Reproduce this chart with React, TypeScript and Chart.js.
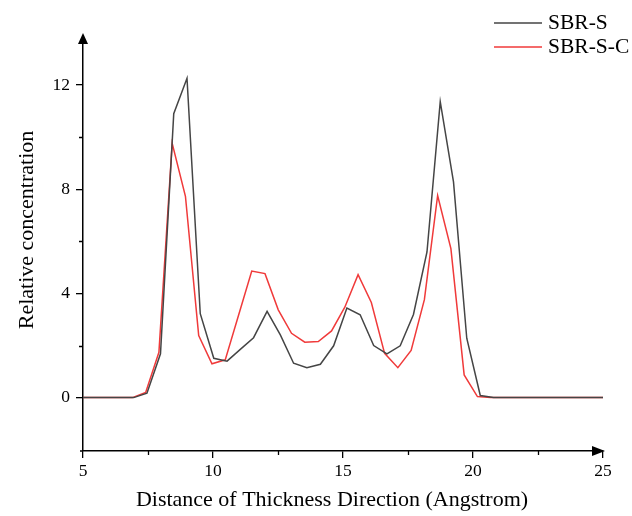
import React, { useEffect, useRef } from 'react';
import { Chart, registerables } from 'chart.js';

Chart.register(...registerables);

// SBR-S
const xBlack = [5, 6.95, 7.46, 7.98, 8.49, 9.0, 9.51, 10.03, 10.54, 11.05, 11.56, 12.08, 12.59, 13.1, 13.61, 14.13, 14.64, 15.15, 15.66, 16.18, 16.69, 17.2, 17.71, 18.23, 18.74, 19.25, 19.76, 20.28, 20.79, 25];
const yBlack = [0, 0, 0.17, 1.68, 10.9, 12.26, 3.22, 1.51, 1.4, 1.85, 2.3, 3.31, 2.41, 1.32, 1.15, 1.28, 1.99, 3.44, 3.18, 2.0, 1.68, 1.99, 3.19, 5.59, 11.36, 8.28, 2.28, 0.08, 0, 0];

// SBR-S-C
const xRed = [5, 6.9, 7.41, 7.92, 8.43, 8.94, 9.45, 9.96, 10.47, 10.98, 11.49, 12.0, 12.51, 13.02, 13.53, 14.05, 14.56, 15.07, 15.58, 16.09, 16.6, 17.11, 17.62, 18.13, 18.64, 19.15, 19.66, 20.17, 20.68, 25];
const yRed = [0, 0, 0.2, 1.74, 9.76, 7.73, 2.38, 1.3, 1.45, 3.15, 4.86, 4.76, 3.37, 2.47, 2.13, 2.15, 2.56, 3.47, 4.72, 3.65, 1.7, 1.15, 1.81, 3.76, 7.76, 5.72, 0.87, 0.04, 0, 0];

const seriesNames = ['SBR-S', 'SBR-S-C'];
const seriesColors = ['#454545', '#f03a3a'];

const xTicks = [5, 10, 15, 20, 25];
const xMinorTicks = [7.5, 12.5, 17.5, 22.5];
const yTicks = [0, 4, 8, 12];
const yMinorTicks = [2, 6, 10];

const xTitle = 'Distance of Thickness Direction (Angstrom)';
const yTitle = 'Relative concentration';

const FONT = '"Liberation Serif", "Times New Roman", serif';

const overlay = {
  id: 'overlay',
  afterDraw(chart: any) {
    const ctx = chart.ctx as CanvasRenderingContext2D;
    const xs = chart.scales.x;
    const ys = chart.scales.y;
    const area = chart.chartArea;
    ctx.save();
    ctx.strokeStyle = '#000';
    ctx.fillStyle = '#000';
    ctx.lineWidth = 1.3;
    // minor ticks and small axis overhang
    ctx.beginPath();
    xMinorTicks.forEach((v) => {
      const px = Math.round(xs.getPixelForValue(v)) + 0.5;
      ctx.moveTo(px, area.bottom);
      ctx.lineTo(px, area.bottom + 4);
    });
    yMinorTicks.forEach((v) => {
      const py = Math.round(ys.getPixelForValue(v)) + 0.5;
      ctx.moveTo(area.left - 4, py);
      ctx.lineTo(area.left, py);
    });
    ctx.moveTo(area.left - 3, area.bottom);
    ctx.lineTo(area.left, area.bottom);
    ctx.stroke();
    // arrows
    ctx.beginPath();
    ctx.moveTo(area.left, area.top - 7);
    ctx.lineTo(area.left - 5, area.top + 4);
    ctx.lineTo(area.left + 5, area.top + 4);
    ctx.closePath();
    ctx.fill();
    ctx.beginPath();
    ctx.moveTo(area.right + 2, area.bottom);
    ctx.lineTo(area.right - 11, area.bottom - 5);
    ctx.lineTo(area.right - 11, area.bottom + 5);
    ctx.closePath();
    ctx.fill();
    // titles
    ctx.font = '22px ' + FONT;
    ctx.textAlign = 'center';
    ctx.textBaseline = 'middle';
    ctx.fillText(xTitle, 332, 500);
    ctx.save();
    ctx.translate(27, 230);
    ctx.rotate(-Math.PI / 2);
    ctx.fillText(yTitle, 0, 0);
    ctx.restore();
    // legend
    const legendY = [23, 47];
    ctx.font = '21.5px ' + FONT;
    ctx.textAlign = 'left';
    seriesNames.forEach((name, i) => {
      ctx.strokeStyle = seriesColors[i];
      ctx.lineWidth = 1.5;
      ctx.beginPath();
      ctx.moveTo(494, legendY[i]);
      ctx.lineTo(542, legendY[i]);
      ctx.stroke();
      ctx.fillStyle = '#000';
      ctx.fillText(name, 548, legendY[i]);
    });
    ctx.restore();
  },
};

export default function App() {
  const ref = useRef<HTMLCanvasElement | null>(null);
  useEffect(() => {
    if (!ref.current) return;
    const toPts = (xs: number[], ys: number[]) => xs.map((x, i) => ({ x, y: ys[i] }));
    const chart = new Chart(ref.current, {
      type: 'scatter',
      data: {
        datasets: [
          {
            label: seriesNames[0],
            data: toPts(xBlack, yBlack),
            showLine: true,
            borderColor: seriesColors[0],
            backgroundColor: seriesColors[0],
            borderWidth: 1.5,
            pointRadius: 0,
            tension: 0,
          },
          {
            label: seriesNames[1],
            data: toPts(xRed, yRed),
            showLine: true,
            borderColor: seriesColors[1],
            backgroundColor: seriesColors[1],
            borderWidth: 1.5,
            pointRadius: 0,
            tension: 0,
          },
        ],
      },
      options: {
        responsive: false,
        animation: false,
        layout: { padding: { left: 0, right: 29, top: 40, bottom: 0 } },
        plugins: { legend: { display: false }, tooltip: { enabled: false } },
        scales: {
          x: {
            type: 'linear',
            min: 5,
            max: 25,
            afterFit: (s: any) => { s.height = 65; },
            afterBuildTicks: (s: any) => { s.ticks = xTicks.map((v) => ({ value: v })); },
            ticks: { color: '#000', font: { family: FONT, size: 17.5 }, padding: 3, maxRotation: 0 },
            grid: { display: true, drawOnChartArea: false, drawTicks: true, tickLength: 7, color: '#000', lineWidth: 1.3 },
            border: { display: true, color: '#000', width: 1.5 },
          },
          y: {
            type: 'linear',
            min: -2.05,
            max: 13.73,
            afterFit: (s: any) => { s.width = 83; },
            afterBuildTicks: (s: any) => { s.ticks = yTicks.map((v) => ({ value: v })); },
            ticks: { color: '#000', font: { family: FONT, size: 17.5 }, padding: 6 },
            grid: { display: true, drawOnChartArea: false, drawTicks: true, tickLength: 7, color: '#000', lineWidth: 1.3 },
            border: { display: true, color: '#000', width: 1.5 },
          },
        },
      },
      plugins: [overlay],
    });
    return () => chart.destroy();
  }, []);
  return (
    <div style={{ position: 'fixed', left: 0, top: 0, width: 632, height: 516, background: '#fff' }}>
      <canvas ref={ref} width={632} height={516} style={{ display: 'block' }} />
    </div>
  );
}
